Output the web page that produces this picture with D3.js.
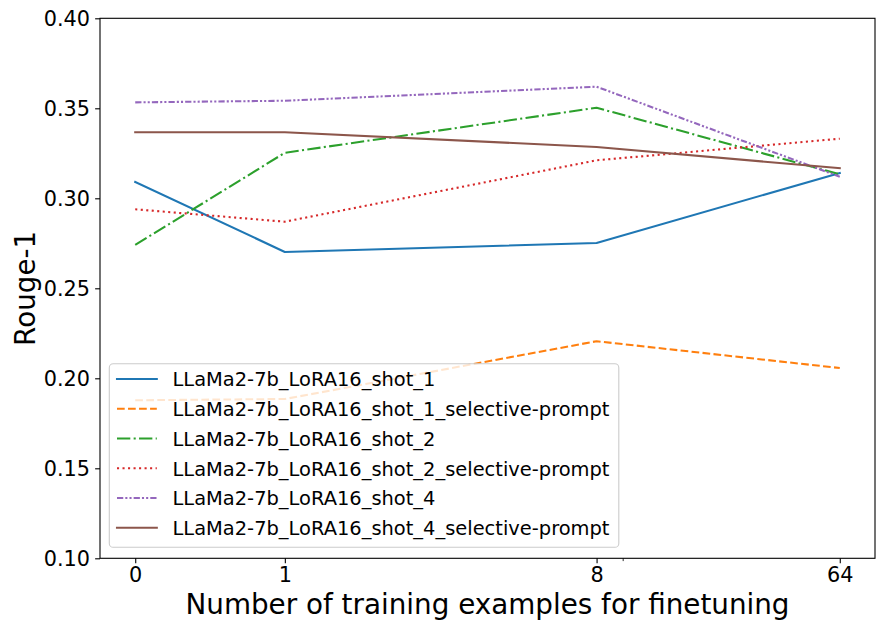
<!DOCTYPE html>
<html>
<head>
<meta charset="utf-8">
<script src="https://cdn.jsdelivr.net/npm/d3@7"></script>
<style>
  html, body { margin: 0; padding: 0; background: #fff; }
  svg { display: block; font-family: "DejaVu Sans", sans-serif; }
</style>
</head>
<body>
<svg id="chart" width="884" height="630"></svg>
<script>
// ---- data ----
const xValues = [0, 1, 8, 64];
const xTickLabels = ["0", "1", "8", "64"];
const yTicks = [0.10, 0.15, 0.20, 0.25, 0.30, 0.35, 0.40];
const seriesNames = [
  "LLaMa2-7b_LoRA16_shot_1",
  "LLaMa2-7b_LoRA16_shot_1_selective-prompt",
  "LLaMa2-7b_LoRA16_shot_2",
  "LLaMa2-7b_LoRA16_shot_2_selective-prompt",
  "LLaMa2-7b_LoRA16_shot_4",
  "LLaMa2-7b_LoRA16_shot_4_selective-prompt"
];
const shot1 = [0.3091, 0.2702, 0.2752, 0.3141];
const shot1Selective = [0.1878, 0.1885, 0.2206, 0.2057];
const shot2 = [0.2741, 0.3253, 0.3503, 0.3133];
const shot2Selective = [0.2939, 0.2870, 0.3211, 0.3331];
const shot4 = [0.3533, 0.3542, 0.3620, 0.3120];
const shot4Selective = [0.3367, 0.3367, 0.3285, 0.3167];
const seriesValues = [shot1, shot1Selective, shot2, shot2Selective, shot4, shot4Selective];

// ---- styles ----
const colors = ["#1f77b4", "#ff7f0e", "#2ca02c", "#d62728", "#9467bd", "#8c564b"];
const lw = 2.08;
const dashes = [
  null,
  [3.7, 1.6].map(d => d * lw).join(","),
  [6.4, 1.6, 1, 1.6].map(d => d * lw).join(","),
  [1, 1.65].map(d => d * lw).join(","),
  [3, 1, 1, 1, 1, 1].map(d => d * lw).join(","),
  null
];

// ---- layout ----
const plot = { left: 100, right: 875, top: 18.3, bottom: 558.3 };
const svg = d3.select("#chart");

// matplotlib-style symlog transform (base 10, linthresh 2, linscale 1)
const linthresh = 2, base = 10, linscaleAdj = 1 / (1 - 1 / base);
function symlogT(v) {
  const a = Math.abs(v);
  if (a <= linthresh) return v * linscaleAdj;
  return Math.sign(v) * linthresh * (linscaleAdj + Math.log(a / linthresh) / Math.log(base));
}
const tMin = symlogT(d3.min(xValues)), tMax = symlogT(d3.max(xValues));
const margin = 0.05 * (tMax - tMin);
const xLin = d3.scaleLinear().domain([tMin - margin, tMax + margin]).range([plot.left, plot.right]);
const x = v => xLin(symlogT(v));
const y = d3.scaleLinear().domain([0.10, 0.40]).range([plot.bottom, plot.top]);

// ---- lines ----
const line = d3.line().x((d, i) => x(xValues[i])).y(d => y(d));
const gLines = svg.append("g");
seriesValues.forEach((vals, i) => {
  gLines.append("path")
    .attr("d", line(vals))
    .attr("fill", "none")
    .attr("stroke", colors[i])
    .attr("stroke-width", lw)
    .attr("stroke-linejoin", "round")
    .attr("stroke-linecap", dashes[i] ? "butt" : "square")
    .attr("stroke-dasharray", dashes[i]);
});

// ---- axes ----
const xAxis = d3.axisBottom(xLin)
  .tickValues(xValues.map(symlogT))
  .tickFormat((d, i) => xTickLabels[i])
  .tickSizeInner(4.86).tickSizeOuter(0).tickPadding(4.86);
const gx = svg.append("g").attr("transform", `translate(0,${plot.bottom})`).call(xAxis);
gx.select(".domain").remove();
gx.selectAll(".tick line").attr("stroke", "#000").attr("stroke-width", 1.1);
gx.selectAll(".tick text").attr("fill", "#000").attr("font-size", 20.8)
  .attr("font-family", "DejaVu Sans").attr("dy", null).attr("y", 24.2);

// minor tick at 10 (symlog default minor locator)
const gxMinor = d3.axisBottom(xLin).tickValues([symlogT(10)]).tickFormat("")
  .tickSizeInner(2.8).tickSizeOuter(0);
const gm = svg.append("g").attr("transform", `translate(0,${plot.bottom})`).call(gxMinor);
gm.select(".domain").remove();
gm.selectAll(".tick line").attr("stroke", "#000").attr("stroke-width", 0.83);

const yAxis = d3.axisLeft(y).tickValues(yTicks).tickFormat(d3.format(".2f"))
  .tickSizeInner(4.86).tickSizeOuter(0).tickPadding(4.86);
const gy = svg.append("g").attr("transform", `translate(${plot.left},0)`).call(yAxis);
gy.select(".domain").remove();
gy.selectAll(".tick line").attr("stroke", "#000").attr("stroke-width", 1.1);
gy.selectAll(".tick text").attr("fill", "#000").attr("font-size", 20.8)
  .attr("font-family", "DejaVu Sans").attr("dy", "0.34em").attr("x", -10);

// frame
svg.append("rect")
  .attr("x", plot.left).attr("y", plot.top)
  .attr("width", plot.right - plot.left).attr("height", plot.bottom - plot.top)
  .attr("fill", "none").attr("stroke", "#000").attr("stroke-width", 1.1);

// axis labels
svg.append("text")
  .attr("x", (plot.left + plot.right) / 2).attr("y", 614)
  .attr("text-anchor", "middle").attr("font-size", 27.8).attr("fill", "#000")
  .text("Number of training examples for finetuning");
svg.append("text")
  .attr("transform", `translate(35,${(plot.top + plot.bottom) / 2}) rotate(-90)`)
  .attr("text-anchor", "middle").attr("font-size", 27.8).attr("fill", "#000")
  .text("Rouge-1");

// ---- legend ----
const leg = { x: 109.3, y: 363.8, w: 509.5, h: 183.5, row0: 379, rowH: 29.75 };
const gLeg = svg.append("g");
gLeg.append("rect")
  .attr("x", leg.x).attr("y", leg.y).attr("width", leg.w).attr("height", leg.h)
  .attr("rx", 3.9).attr("ry", 3.9)
  .attr("fill", "#fff").attr("fill-opacity", 0.8)
  .attr("stroke", "#cccccc").attr("stroke-width", 1.1);
seriesNames.forEach((name, i) => {
  const cy = leg.row0 + i * leg.rowH;
  gLeg.append("line")
    .attr("x1", 117).attr("x2", 156.8).attr("y1", cy).attr("y2", cy)
    .attr("stroke", colors[i]).attr("stroke-width", lw)
    .attr("stroke-linecap", dashes[i] ? "butt" : "square")
    .attr("stroke-dasharray", dashes[i]);
  gLeg.append("text")
    .attr("x", 172.5).attr("y", cy + 7.3)
    .attr("font-size", 19.44).attr("fill", "#000")
    .text(name);
});
</script>
</body>
</html>
